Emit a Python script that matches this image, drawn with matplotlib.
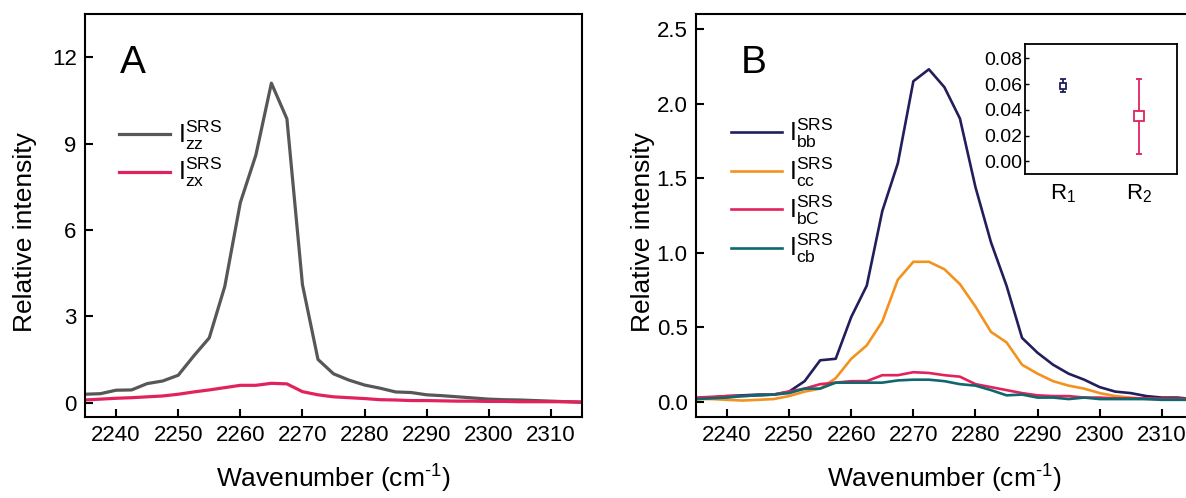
import matplotlib
matplotlib.use("Agg")
import matplotlib.pyplot as plt

plt.rcParams["font.family"] = ["Liberation Sans", "DejaVu Sans"]
plt.rcParams["mathtext.fontset"] = "custom"
plt.rcParams["mathtext.rm"] = "Liberation Sans"
plt.rcParams["mathtext.it"] = "Liberation Sans"

# wavenumber grid (cm-1)
wavenumber = [2235.0, 2237.5, 2240.0, 2242.5, 2245.0, 2247.5, 2250.0, 2252.5,
              2255.0, 2257.5, 2260.0, 2262.5, 2265.0, 2267.5, 2270.0, 2272.5,
              2275.0, 2277.5, 2280.0, 2282.5, 2285.0, 2287.5, 2290.0, 2292.5,
              2295.0, 2297.5, 2300.0, 2302.5, 2305.0, 2307.5, 2310.0, 2312.5,
              2315.0]

# panel A
i_zz = [0.29, 0.31, 0.43, 0.44, 0.66, 0.75, 0.95, 1.62, 2.25, 4.04, 6.95,
        8.60, 11.10, 9.86, 4.10, 1.50, 1.00, 0.78, 0.61, 0.50, 0.37, 0.35,
        0.27, 0.24, 0.20, 0.16, 0.12, 0.10, 0.09, 0.07, 0.05, 0.03, 0.01]
i_zx = [0.09, 0.12, 0.15, 0.17, 0.20, 0.23, 0.29, 0.37, 0.44, 0.52, 0.60,
        0.60, 0.67, 0.65, 0.38, 0.27, 0.20, 0.17, 0.14, 0.10, 0.09, 0.07,
        0.07, 0.06, 0.05, 0.05, 0.04, 0.04, 0.03, 0.03, 0.03, 0.03, 0.02]

# panel B
i_bb = [0.02, 0.03, 0.04, 0.045, 0.05, 0.05, 0.07, 0.14, 0.28, 0.29, 0.57,
        0.78, 1.28, 1.60, 2.15, 2.23, 2.11, 1.90, 1.44, 1.07, 0.78, 0.43,
        0.33, 0.25, 0.19, 0.15, 0.10, 0.07, 0.06, 0.04, 0.03, 0.03, 0.02]
i_cc = [0.02, 0.02, 0.015, 0.01, 0.015, 0.02, 0.04, 0.07, 0.09, 0.16, 0.29,
        0.38, 0.54, 0.82, 0.94, 0.94, 0.89, 0.79, 0.64, 0.47, 0.40, 0.25,
        0.19, 0.14, 0.11, 0.09, 0.06, 0.04, 0.03, 0.02, 0.02, 0.02, 0.02]
i_bC = [0.03, 0.035, 0.04, 0.04, 0.045, 0.05, 0.07, 0.09, 0.12, 0.13, 0.14,
        0.14, 0.18, 0.18, 0.20, 0.195, 0.18, 0.17, 0.12, 0.10, 0.08, 0.06,
        0.045, 0.04, 0.04, 0.03, 0.03, 0.025, 0.025, 0.025, 0.02, 0.02, 0.02]
i_cb = [0.02, 0.025, 0.03, 0.04, 0.045, 0.05, 0.06, 0.09, 0.09, 0.13, 0.13,
        0.13, 0.13, 0.145, 0.15, 0.15, 0.14, 0.12, 0.11, 0.08, 0.045, 0.05,
        0.03, 0.03, 0.02, 0.03, 0.02, 0.02, 0.02, 0.02, 0.015, 0.015, 0.015]

# inset ratios
ratio_names = [r"$\mathregular{R_1}$", r"$\mathregular{R_2}$"]
ratio_vals = [0.059, 0.035]
ratio_errs = [0.005, 0.029]

GREY = "#575757"
PINK = "#E2225C"
NAVY = "#221E5C"
ORANGE = "#F3931F"
TEAL = "#0F6770"

fig = plt.figure(figsize=(11.86, 4.98), dpi=100)
axA = fig.add_axes([0.0717, 0.1627, 0.419, 0.809])
axB = fig.add_axes([0.5868, 0.1627, 0.419, 0.809])


def style(ax, ylab_x):
    for s in ax.spines.values():
        s.set_linewidth(1.5)
    ax.tick_params(direction="in", length=6, width=1.5, labelsize=16, pad=6,
                   top=False, right=False)
    ax.set_xlim(2235, 2315)
    ax.set_xticks([2240, 2250, 2260, 2270, 2280, 2290, 2300, 2310])
    ax.set_xlabel(r"Wavenumber (cm$^{\mathregular{\text{-}1}}$)", fontsize=19,
                  labelpad=12)
    ax.set_ylabel("Relative intensity", fontsize=19)
    ax.yaxis.set_label_coords(ylab_x, 0.46)


# panel A
axA.plot(wavenumber, i_zz, color=GREY, lw=2.3,
         label=r"$\mathregular{I^{SRS}_{zz}}$")
axA.plot(wavenumber, i_zx, color=PINK, lw=2.3,
         label=r"$\mathregular{I^{SRS}_{zx}}$")
style(axA, -0.097)
axA.set_ylim(-0.5, 13.5)
axA.set_yticks([0, 3, 6, 9, 12])
axA.text(0.07, 0.855, "A", transform=axA.transAxes, fontsize=28)
axA.legend(loc="upper left", bbox_to_anchor=(0.068, 0.74), frameon=False,
           fontsize=18, handlelength=2.05, handletextpad=0.3, labelspacing=0.15,
           borderpad=0, borderaxespad=0)

# panel B
axB.plot(wavenumber, i_bb, color=NAVY, lw=1.9,
         label=r"$\mathregular{I^{SRS}_{bb}}$")
axB.plot(wavenumber, i_cc, color=ORANGE, lw=1.9,
         label=r"$\mathregular{I^{SRS}_{cc}}$")
axB.plot(wavenumber, i_bC, color=PINK, lw=1.9,
         label=r"$\mathregular{I^{SRS}_{bC}}$")
axB.plot(wavenumber, i_cb, color=TEAL, lw=1.9,
         label=r"$\mathregular{I^{SRS}_{cb}}$")
style(axB, -0.083)
axB.set_ylim(-0.1, 2.6)
axB.set_yticks([0.0, 0.5, 1.0, 1.5, 2.0, 2.5])
axB.set_yticklabels(["0.0", "0.5", "1.0", "1.5", "2.0", "2.5"])
axB.text(0.09, 0.855, "B", transform=axB.transAxes, fontsize=28)
axB.legend(loc="upper left", bbox_to_anchor=(0.07, 0.745), frameon=False,
           fontsize=18, handlelength=2.05, handletextpad=0.3, labelspacing=0.2,
           borderpad=0, borderaxespad=0)

# inset
axI = fig.add_axes([0.8643, 0.65, 0.1284, 0.261])
axI.errorbar([1], ratio_vals[0], yerr=ratio_errs[0], fmt="s", ms=5,
             mfc="white", mec=NAVY, mew=1.3, ecolor=NAVY, elinewidth=1.3,
             capsize=2, capthick=1.3)
axI.errorbar([2], ratio_vals[1], yerr=ratio_errs[1], fmt="s", ms=7,
             mfc="white", mec=PINK, mew=1.3, ecolor=PINK, elinewidth=1.3,
             capsize=2, capthick=1.3)
axI.set_xlim(0.5, 2.5)
axI.set_ylim(-0.01, 0.091)
axI.set_yticks([0.00, 0.02, 0.04, 0.06, 0.08])
axI.set_yticklabels(["0.00", "0.02", "0.04", "0.06", "0.08"])
axI.set_xticks([1, 2])
axI.set_xticklabels(ratio_names)
for s in axI.spines.values():
    s.set_linewidth(1.3)
axI.tick_params(axis="y", direction="in", length=3, width=1, labelsize=14,
                pad=2)
axI.tick_params(axis="x", length=0, labelsize=16, pad=6)

fig.savefig("out.png", dpi=100)
